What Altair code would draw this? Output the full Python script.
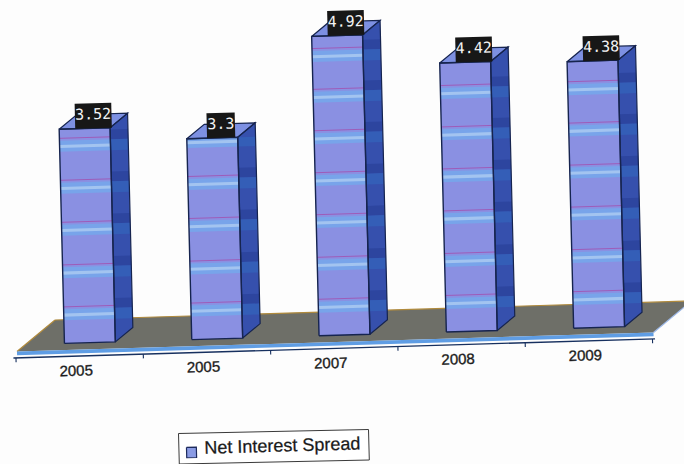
import altair as alt
import pandas as pd

categories = ["2005", "2005", "2007", "2008", "2009"]
spread = [3.52, 3.3, 4.92, 4.42, 4.38]
value_labels = ["3.52", "3.3", "4.92", "4.42", "4.38"]
gridlines = [0.6, 1.29, 1.99, 2.68, 3.37, 4.05, 4.72]
legend_label = "Net Interest Spread"

W, H = 684, 464

# Oblique projection of (category, value, depth) on to the sheet.
ORIGIN = (17.0, 351.5)
CAT = (127.3, -3.8)
VAL = (-1.5, -60.85)
DEPTH = (38.0, -31.5)
BAR_D0, BAR_D1 = 0.22, 0.68
BAR_GAP, BAR_W = 0.307, 0.40
SIDE_SPAN = (BAR_D1 - BAR_D0) * DEPTH[0] / CAT[0]
TILT = 358.4


def pt(c, v, d):
    return (ORIGIN[0] + c * CAT[0] + v * VAL[0] + d * DEPTH[0],
            ORIGIN[1] + c * CAT[1] + v * VAL[1] + d * DEPTH[1])


x_enc = alt.X("x:Q", scale=alt.Scale(domain=[0, W], nice=False, zero=False), axis=None)
y_enc = alt.Y("y:Q", scale=alt.Scale(domain=[H, 0], nice=False, zero=False), axis=None)


def polys(shapes, fill, stroke=None, sw=0.0, opacity=1.0, close=True):
    rows = []
    for k, shape in enumerate(shapes):
        pts = list(shape) + ([shape[0]] if close else [])
        for i, (x, y) in enumerate(pts):
            rows.append({"face": k, "i": i, "x": x, "y": y})
    kw = {"strokeWidth": sw if stroke else 0, "opacity": opacity, "clip": True,
          "stroke": stroke if stroke else "transparent"}
    if fill:
        kw["fill"] = fill
    return (alt.Chart(pd.DataFrame(rows)).mark_line(**kw)
            .encode(x=x_enc, y=y_enc, detail="face:N", order="i:Q"))


def front(c0, c1, v0, v1):
    return [pt(c0, v0, BAR_D0), pt(c1, v0, BAR_D0), pt(c1, v1, BAR_D0), pt(c0, v1, BAR_D0)]


def side(c, v0, v1):
    return [pt(c, v0, BAR_D0), pt(c, v0, BAR_D1), pt(c, v1, BAR_D1), pt(c, v1, BAR_D0)]


def side_band(c, v0, v1):
    # Stripes on the side face run level with the front, not back into the depth
    return front(c, c + SIDE_SPAN, v0, v1)


layers = []

# Floor slab
floor = [pt(0, 0, 0), pt(5, 0, 0), pt(5, 0, 1), pt(0, 0, 1)]
layers.append(polys([floor], "#6e6f68"))
layers.append(polys([[pt(0, 0, 1), pt(5, 0, 1)], [pt(0, 0, 0), pt(0, 0, 1)]],
                    None, "#b08a3c", 1.2, close=False))
layers.append(polys([[pt(0, 0, 0), pt(5, 0, 0), pt(5, -0.06, 0), pt(0, -0.06, 0)]], "#5f9de4"))
layers.append(polys([[pt(5, 0, 0), pt(5, 0, 1)]], None, "#9db9e8", 1.2, close=False))
layers.append(polys([[pt(-0.02, -0.09, -0.03), pt(5.02, -0.09, -0.03)]], None, "#17305f", 1.3, close=False))
layers.append(polys([[pt(k, -0.09, -0.03), pt(k, -0.16, -0.03)] for k in range(6)],
                    None, "#17305f", 1.1, close=False))

# Bars: side and top faces first, then the front with its recurring bands
lefts = [k + BAR_GAP for k in range(len(spread))]
rights = [c + BAR_W for c in lefts]

layers.append(polys([side(r, 0, v) for r, v in zip(rights, spread)], "#3650ad"))
layers.append(polys([[pt(c, v, BAR_D0), pt(r, v, BAR_D0), pt(r, v, BAR_D1), pt(c, v, BAR_D1)]
                     for c, r, v in zip(lefts, rights, spread)], "#7d90e2"))
layers.append(polys([front(c, r, 0, v) for c, r, v in zip(lefts, rights, spread)], "#8a90e2"))

band_front, band_light, band_line, side_dark, side_light = [], [], [], [], []
for c, r, v in zip(lefts, rights, spread):
    for g in gridlines:
        hi, lo = min(g - 0.04, v), g - 0.22
        if hi > lo:
            band_front.append(front(c, r, lo, hi))
            band_light.append(front(c, r, g - 0.16, min(g - 0.11, v)))
            side_light.append(side_band(r, lo, hi))
        if g < v:
            band_line.append([pt(c, g, BAR_D0), pt(r, g, BAR_D0)])
            side_dark.append(side_band(r, g - 0.04, min(g + 0.12, v)))

layers.append(polys(side_dark, "#2d459f"))
layers.append(polys(side_light, "#345eb7"))
layers.append(polys(band_front, "#78a4ea"))
layers.append(polys(band_light, "#a3c4f0"))
layers.append(polys(band_line, None, "#a24fae", 1.0, opacity=0.8, close=False))

# Bar outlines
outline = "#16244f"
layers.append(polys([side(r, 0, v) for r, v in zip(rights, spread)], None, outline, 1.2))
layers.append(polys([[pt(c, v, BAR_D0), pt(r, v, BAR_D0), pt(r, v, BAR_D1), pt(c, v, BAR_D1)]
                     for c, r, v in zip(lefts, rights, spread)], None, outline, 1.2))
layers.append(polys([front(c, r, 0, v) for c, r, v in zip(lefts, rights, spread)], None, outline, 1.4))

# Value tags sitting on each bar's top face
boxes, tag_rows = [], []
for c, r, v, lab in zip(lefts, rights, spread, value_labels):
    mid = (c + r) / 2 + 0.07
    half = (len(lab) * 8.4 + 3) / 2 / CAT[0]
    boxes.append([pt(mid - half, v, BAR_D0), pt(mid + half, v, BAR_D0),
                  pt(mid + half, v + 0.41, BAR_D0), pt(mid - half, v + 0.41, BAR_D0)])
    x, y = pt(mid, v + 0.23, BAR_D0)
    tag_rows.append({"x": x, "y": y, "label": lab})
layers.append(polys(boxes, "#171717"))
layers.append(alt.Chart(pd.DataFrame(tag_rows)).mark_text(
    font="DejaVu Sans Mono", fontSize=15, color="#f4f4f4", angle=TILT,
    align="center", baseline="middle").encode(x=x_enc, y=y_enc, text="label:N"))

# Category labels under the floor
cat_rows = []
for k, name in enumerate(categories):
    x, y = pt(k + 0.47, -0.33, -0.03)
    cat_rows.append({"x": x, "y": y, "label": name})
layers.append(alt.Chart(pd.DataFrame(cat_rows)).mark_text(
    font="Liberation Sans", fontSize=15, color="#1c1c1c", stroke="#1c1c1c", strokeWidth=0.35,
    angle=TILT, align="center", baseline="middle").encode(x=x_enc, y=y_enc, text="label:N"))

# Legend frame, swatch and entry, tilted with the rest of the sheet
lg0 = (178.5, 433.5)
lg_u = (190.0, -4.0)
lg_v = (0.8, 30.5)
lg = lambda a, b: (lg0[0] + a * lg_u[0] + b * lg_v[0], lg0[1] + a * lg_u[1] + b * lg_v[1])
layers.append(polys([[lg(0, 0), lg(1, 0), lg(1, 1), lg(0, 1)]], "#ffffff", "#3a3a3a", 1.0))
layers.append(polys([[lg(0.04, 0.46), lg(0.092, 0.46), lg(0.092, 0.8), lg(0.04, 0.8)]],
                    "#8a9be4", "#1d2a5c", 1.2))
lx, ly = lg(0.545, 0.5)
layers.append(alt.Chart(pd.DataFrame([{"x": lx, "y": ly, "label": legend_label}])).mark_text(
    font="Liberation Sans", fontSize=18, color="#1a1a1a", stroke="#1a1a1a", strokeWidth=0.25, angle=TILT,
    align="center", baseline="middle").encode(x=x_enc, y=y_enc, text="label:N"))

chart = (alt.layer(*layers)
         .properties(width=W, height=H, padding=0,
                     autosize=alt.AutoSizeParams(type="none"), background="#fdfdfd")
         .configure_view(stroke=None))

chart.save("out.html", embed_options={"renderer": "svg", "actions": False})
